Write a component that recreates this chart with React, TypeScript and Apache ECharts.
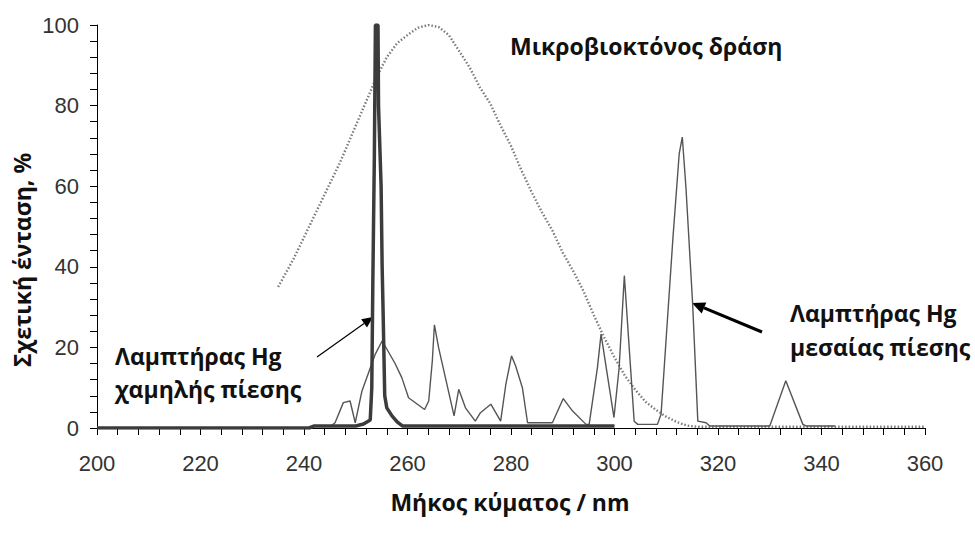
import React, { useEffect, useRef } from "react";
import * as echarts from "echarts";

// Germicidal action curve (dotted)
const germNm = [235, 238, 241, 244, 247, 250, 252, 254, 256, 258, 260, 262, 264, 266, 268, 270, 272, 274, 276, 278, 280, 282, 284, 286, 288, 290, 292, 294, 296, 298, 300, 302, 304, 306, 308, 310, 312, 314, 316, 330, 345, 360];
const germVal = [35, 42, 50, 58, 66, 75, 81, 87, 92, 95.5, 97.5, 99.3, 100, 99.5, 97.5, 93.5, 89.5, 84.5, 80.5, 75, 70, 64, 58.5, 53.5, 49, 43.5, 39, 34, 28, 22.5, 17.5, 13, 9.5, 6.5, 4.5, 2.8, 1.5, 0.6, 0.3, 0.3, 0.3, 0.3];

// Medium-pressure Hg lamp (thin line)
const medNm = [245, 246, 247.6, 248.9, 249.9, 251.2, 253.8, 255.1, 256, 257.6, 258.9, 260.2, 263.3, 264.1, 264.8, 265.2, 266, 269, 269.9, 271.2, 273.1, 274.1, 276.1, 278, 279, 280.1, 280.9, 282.2, 283.2, 288, 290.1, 291.9, 294.5, 295.1, 296.7, 297.4, 298.7, 299.9, 300.9, 301.9, 303.8, 304.5, 308.3, 309, 310, 311.3, 312.5, 313.1, 313.8, 315.1, 316.1, 317.7, 318.4, 330, 333.1, 336.4, 337, 342.6];
const medVal = [0.3, 1.3, 6.3, 6.7, 1.3, 9.2, 18.4, 21.6, 19.6, 16, 12.5, 7.5, 4.6, 6.7, 16.7, 25.6, 20, 3, 9.6, 5, 1.7, 3.8, 5.9, 1.7, 10.8, 17.9, 15.4, 10, 1.3, 1.3, 7.3, 4.2, 0.9, 0.9, 15, 23.3, 12.5, 2.6, 15, 37.8, 1.7, 0.9, 0.9, 3.4, 22.5, 47.3, 68, 72.2, 59.8, 30.8, 1.7, 1.3, 0.5, 0.5, 11.7, 0.9, 0.5, 0.5];

// Low-pressure Hg lamp (thick line)
const lowNm = [200, 241, 242, 250, 251.5, 252.8, 253.1, 253.3, 253.6, 253.8, 254.3, 254.4, 254.9, 255.1, 255.3, 255.6, 256, 257, 258, 259, 300];
const lowVal = [0, 0, 0.5, 0.5, 1, 2, 10, 36, 68, 100, 100, 80, 60, 40, 28, 8, 5, 3, 1.5, 0.5, 0.5];

const xTicks = [200, 220, 240, 260, 280, 300, 320, 340, 360];
const yTicks = [0, 20, 40, 60, 80, 100];

const pairs = (xs: number[], ys: number[]) => xs.map((x, i) => [x, ys[i]]);

const BOLD = 'bold 23px "Open Sans", "Noto Sans", sans-serif';
const TXT = "#111";

function arrow(x1: number, y1: number, x2: number, y2: number, w: number, hl: number, hw: number) {
  const dx = x2 - x1, dy = y2 - y1;
  const len = Math.sqrt(dx * dx + dy * dy);
  const ux = dx / len, uy = dy / len;
  const bx = x2 - ux * hl, by = y2 - uy * hl;
  const px = -uy, py = ux;
  return [
    { type: "line", shape: { x1, y1, x2: bx, y2: by }, style: { stroke: "#000", lineWidth: w } },
    {
      type: "polygon",
      shape: { points: [[x2, y2], [bx + px * hw, by + py * hw], [bx - px * hw, by - py * hw]] },
      style: { fill: "#000" },
    },
  ];
}

export default function App() {
  const ref = useRef<HTMLDivElement>(null);
  useEffect(() => {
    if (!ref.current) return;
    const chart = echarts.init(ref.current, undefined, { renderer: "svg" });
    const axisCommon = {
      axisLine: { show: true, lineStyle: { color: "#000", width: 1 } },
      axisTick: { show: true, length: 7, lineStyle: { color: "#000" } },
      minorTick: { show: true, splitNumber: 5, length: 7, lineStyle: { color: "#000" } },
      splitLine: { show: false },
      minorSplitLine: { show: false },
    };
    const labelFont = { fontSize: 22, color: "#333", fontFamily: '"Liberation Sans", Arial' };
    chart.setOption({
      animation: false,
      backgroundColor: "#fff",
      grid: { left: 97, right: 50, top: 25, bottom: 107 },
      xAxis: {
        type: "value",
        min: xTicks[0],
        max: xTicks[xTicks.length - 1],
        interval: 20,
        ...axisCommon,
        axisLabel: { ...labelFont, margin: 24 },
      },
      yAxis: {
        type: "value",
        min: yTicks[0],
        max: yTicks[yTicks.length - 1],
        interval: 20,
        ...axisCommon,
        axisLabel: { ...labelFont, margin: 18 },
      },
      series: [
        {
          type: "line",
          data: pairs(germNm, germVal),
          showSymbol: false,
          lineStyle: { color: "#7a7a7a", width: 2.4, type: [1.5, 2] },
          z: 1,
        },
        {
          type: "line",
          data: pairs(medNm, medVal),
          showSymbol: false,
          lineStyle: { color: "#555", width: 1.4 },
          z: 2,
        },
        {
          type: "line",
          data: pairs(lowNm, lowVal),
          showSymbol: false,
          lineStyle: { color: "#3c3c3c", width: 3.5 },
          z: 3,
        },
      ],
      graphic: [
        { type: "text", x: 510, y: 46, style: { text: "Μικροβιοκτόνος δράση", font: BOLD, fill: TXT, textVerticalAlign: "middle" } },
        { type: "text", x: 115, y: 356, style: { text: "Λαμπτήρας Hg", font: BOLD, fill: TXT, textVerticalAlign: "middle" } },
        { type: "text", x: 115, y: 389, style: { text: "χαμηλής πίεσης", font: BOLD, fill: TXT, textVerticalAlign: "middle" } },
        { type: "text", x: 790, y: 313, style: { text: "Λαμπτήρας Hg", font: BOLD, fill: TXT, textVerticalAlign: "middle" } },
        { type: "text", x: 790, y: 347, style: { text: "μεσαίας πίεσης", font: BOLD, fill: TXT, textVerticalAlign: "middle" } },
        { type: "text", x: 510, y: 502, style: { text: "Μήκος κύματος / nm", font: BOLD, fill: TXT, textAlign: "center", textVerticalAlign: "middle" } },
        {
          type: "text", x: 22, y: 260, rotation: Math.PI / 2,
          style: { text: "Σχετική ένταση, %", font: BOLD, fill: TXT, textAlign: "center", textVerticalAlign: "middle" },
        },
        ...arrow(317, 357, 373, 317, 1.2, 11, 5),
        ...arrow(762, 332, 692, 303, 3, 13, 6),
      ],
    });
    return () => chart.dispose();
  }, []);
  return <div ref={ref} style={{ position: "fixed", left: 0, top: 0, width: 975, height: 535 }} />;
}
